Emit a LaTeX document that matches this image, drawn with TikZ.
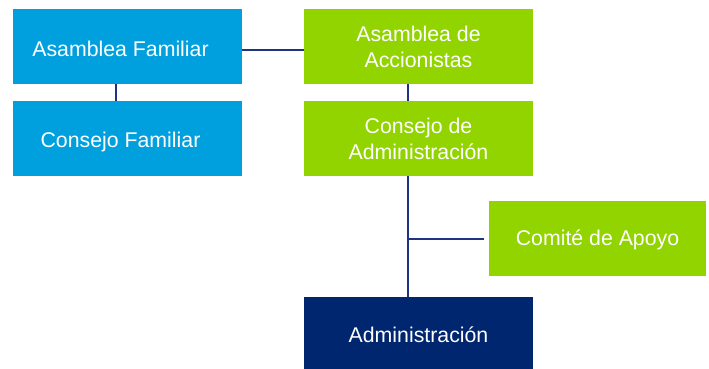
\documentclass[tikz,border=0pt]{standalone}
\usepackage{fontspec}
\setmainfont{Liberation Sans}
\definecolor{famblue}{RGB}{0,160,222}
\definecolor{accgreen}{RGB}{146,212,0}
\definecolor{adnavy}{RGB}{0,38,112}
\definecolor{linknavy}{RGB}{30,52,130}
\newcommand{\lowtext}[2]{\raisebox{-#1}[\height][\depth]{#2}}
\begin{document}
\begin{tikzpicture}[x=1pt,y=-1pt,
  box/.style={rectangle, inner sep=0pt, text=white, align=center,
    font=\fontsize{21.3}{26}\selectfont, minimum width=229pt, minimum height=75pt},
  fam/.style={box, fill=famblue},
  acc/.style={box, fill=accgreen},
  adm/.style={box, fill=adnavy},
  link/.style={draw=linknavy, line width=2pt}]
\useasboundingbox (0,0) rectangle (709,369);
\node[fam] (AF) at (127.5,46.5) {\lowtext{2.5pt}{Asamblea Familiar}\hspace*{14pt}};
\node[fam] (CF) at (127.5,138.5) {\lowtext{3pt}{Consejo Familiar}\hspace*{14pt}};
\node[acc] (AA) at (418.5,46.5) {Asamblea de\\Accionistas};
\node[acc] (CA) at (418.5,138.5) {Consejo de\\Administración};
\node[acc, minimum width=217pt] (CO) at (597.5,238.5) {\lowtext{1.5pt}{Comité de Apoyo}};
\node[adm, minimum height=72pt] (AD) at (418.5,333) {\lowtext{2pt}{Administración}};
\draw[link] ([yshift=-4pt]AF.east) -- ([yshift=-4pt]AA.west);
\draw[link] ([xshift=-11.5pt]AF.south) -- ([xshift=-11.5pt]CF.north);
\draw[link] ([xshift=-10.5pt]AA.south) -- ([xshift=-10.5pt]CA.north);
\draw[link] ([xshift=-10.5pt]CA.south) -- ([xshift=-10.5pt]AD.north);
\coordinate (J) at ([xshift=-10.5pt]CA.south |- CO.west);
\draw[link] (J) -- ([xshift=-5pt]CO.west);
\end{tikzpicture}
\end{document}
